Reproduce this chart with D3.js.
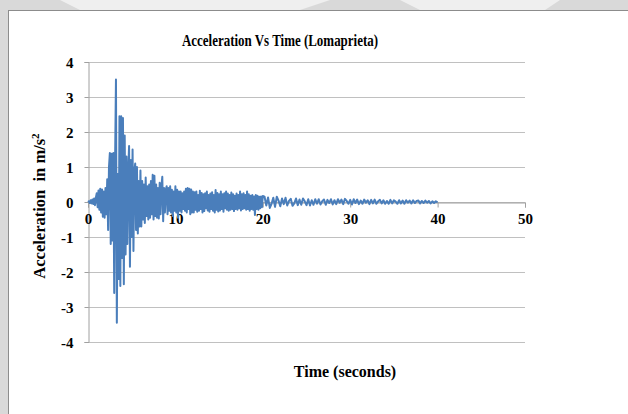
<!DOCTYPE html>
<html>
<head>
<meta charset="utf-8">
<script src="https://cdn.jsdelivr.net/npm/d3@7"></script>
<style>
  body { margin: 0; background: #d9d9d9; overflow: hidden; }
  svg { display: block; }
  text { font-family: "Liberation Serif", "Times New Roman", serif; font-weight: bold; fill: #000; }
</style>
</head>
<body>
<div id="chart"></div>
<script>
// acceleration (m/s^2)
// strong motion part: t = 0 .. 20 s, every 0.1 s
const strongStep = 0.1;
const accelStrong = [
  0, 0.02, -0.03, 0.05, -0.04, 0.07, -0.06, 0.1, -0.09, 0.12,
  0.25, -0.15, 0.33, -0.22, 0.38, -0.3, 0.36, -0.42, 0.3, -0.45,
  0.4, -0.35, 0.65, -0.8, 1.0, 1.4, -1.2, 1.38, -1.1, 1.4,
  -2.6, 1.2, 3.5, -3.45, 0.8, -2.2, 2.45, -2.4, 2.45, -1.6,
  2.4, -2.35, 1.9, -1.5, 1.3, -1.2, 0.9, 1.6, -1.85, 1.2,
  -1.0, 1.5, -1.4, 0.9, 1.1, -0.8, 1.0, -0.9, 0.6, -0.7,
  0.9, -0.7, 0.6, -0.5, 0.5, -0.6, 0.7, -0.4, 0.45, -0.5,
  0.5, -0.45, 0.6, -0.35, 0.78, -0.5, 0.75, -0.4, 0.5, -0.45,
  0.4, -0.47, 0.55, -0.35, 0.45, 0.72, -0.55, 0.4, -0.3, 0.35,
  0.45, -0.35, 0.4, -0.25, 0.45, -0.3, 0.35, -0.4, 0.3, -0.25,
  0.45, -0.3, 0.35, -0.45, 0.3, -0.25, 0.3, -0.3, 0.25, -0.2,
  0.3, -0.25, 0.38, -0.3, 0.4, -0.2, 0.38, -0.35, 0.36, -0.3,
  0.3, -0.3, 0.28, -0.22, 0.3, -0.28, 0.2, -0.25, 0.32, -0.2,
  0.26, -0.3, 0.22, -0.26, 0.25, -0.18, 0.3, -0.24, 0.2, -0.28,
  0.24, -0.2, 0.28, -0.25, 0.2, -0.3, 0.34, -0.22, 0.26, -0.27,
  0.22, -0.24, 0.3, -0.2, 0.22, -0.28, 0.25, -0.18, 0.3, -0.22,
  0.24, -0.25, 0.2, -0.22, 0.27, -0.2, 0.22, -0.26, 0.18, -0.2,
  0.24, -0.22, 0.2, -0.18, 0.3, -0.24, 0.22, -0.2, 0.25, -0.18,
  0.2, -0.22, 0.3, -0.2, 0.22, -0.25, 0.18, -0.2, 0.2, -0.22,
  0.16, -0.37, 0.2, -0.2, 0.18, -0.22, 0.15, -0.18, 0.16, -0.15,
  0.17
];
// coda: t = 20.2 .. 40 s, every 0.2 s
const tailStart = 20.2, tailStep = 0.2;
const accelTail = [
  0.15, -0.1, 0.13, -0.17, -0.05, 0.12, -0.14, 0.15, 0.04, -0.12,
  0.1, -0.06, 0.12, -0.1, 0.03, 0.09, -0.11, -0.04, 0.1, -0.09,
  0.07, -0.08, 0.1, 0.02, -0.09, 0.08, -0.1, 0.05, -0.08, 0.08,
  -0.05, 0.08, -0.07, 0.02, 0.07, -0.08, 0.06, -0.03, 0.08, -0.07,
  0.05, -0.06, 0.08, -0.02, 0.07, -0.06, 0.09, 0.03, -0.05, 0.06,
  -0.07, 0.08, -0.03, 0.07, -0.06, 0.04, -0.05, 0.07, -0.02, 0.05,
  -0.06, 0.06, -0.04, 0.07, -0.05, 0.02, 0.06, -0.04, 0.05, -0.05,
  0.03, -0.05, 0.06, -0.04, 0.05, 0.01, -0.05, 0.05, -0.04, 0.04,
  -0.05, 0.05, -0.02, 0.04, -0.04, 0.05, -0.03, 0.03, 0.04, -0.04,
  0.03, -0.03, 0.04, -0.02, 0.03, -0.04, 0.02, -0.03, 0.02, -0.01
];
const xTicks = [0, 10, 20, 30, 40, 50];
const yTicks = [-4, -3, -2, -1, 0, 1, 2, 3, 4];

const data = accelStrong.map((a, i) => [i * strongStep, a])
  .concat(accelTail.map((a, i) => [tailStart + i * tailStep, a]));

const W = 628, H = 414;
const plot = {left: 88, right: 525, top: 62, bottom: 342};

const svg = d3.select("#chart").append("svg")
  .attr("width", W).attr("height", H);

// outer frame
svg.append("rect").attr("x", 0).attr("y", 0).attr("width", W).attr("height", H).attr("fill", "#d9d9d9");
svg.append("path")
  .attr("d", "M60,0 L330,0 L300,10 L80,10 Z M400,0 L560,0 L545,10 L420,10 Z")
  .attr("fill", "#efefef");
svg.append("rect").attr("x", 8.5).attr("y", 10.5).attr("width", W).attr("height", H)
  .attr("fill", "#fff").attr("stroke", "#8c8c8c");

const x = d3.scaleLinear().domain([0, 50]).range([plot.left, plot.right]);
const y = d3.scaleLinear().domain([-4, 4]).range([plot.bottom, plot.top]);

// gridlines
svg.append("g").selectAll("line").data(yTicks).enter().append("line")
  .attr("x1", plot.left).attr("x2", plot.right)
  .attr("y1", d => Math.round(y(d)) + 0.5).attr("y2", d => Math.round(y(d)) + 0.5)
  .attr("stroke", "#c0c0c0").attr("stroke-width", 1);

// y axis
const yAxis = svg.append("g")
  .attr("transform", `translate(${plot.left + 0.5},0)`)
  .call(d3.axisLeft(y).tickValues(yTicks).tickSize(4).tickPadding(11).tickFormat(d => String(d)));
yAxis.select(".domain").attr("stroke", "#a0a0a0");
yAxis.selectAll(".tick line").attr("stroke", "#a0a0a0");
yAxis.selectAll(".tick text").style("font-size", "15px").attr("dy", "0.35em");

// x axis at zero
const xAxis = svg.append("g")
  .attr("transform", `translate(0,${Math.round(y(0)) + 0.5})`)
  .call(d3.axisBottom(x).tickValues(xTicks).tickSize(5).tickPadding(6).tickFormat(d => String(d)));
xAxis.select(".domain").attr("stroke", "#a0a0a0");
xAxis.selectAll(".tick line").attr("stroke", "#a0a0a0");
xAxis.selectAll(".tick text").style("font-size", "15px");

// series
const line = d3.line().x(d => x(d[0])).y(d => y(d[1]));
svg.append("path").datum(data)
  .attr("d", line)
  .attr("fill", "none")
  .attr("stroke", "#4a7ebb")
  .attr("stroke-width", 2)
  .attr("stroke-linejoin", "round");

// titles
svg.append("text").attr("x", 280).attr("y", 46).attr("text-anchor", "middle")
  .attr("textLength", 196).attr("lengthAdjust", "spacingAndGlyphs")
  .style("font-size", "16px").text("Acceleration Vs Time (Lomaprieta)");
svg.append("text").attr("x", 345).attr("y", 377).attr("text-anchor", "middle")
  .style("font-size", "16px").text("Time (seconds)");
svg.append("text")
  .attr("transform", "translate(45,206) rotate(-90)")
  .attr("text-anchor", "middle")
  .style("font-size", "16.5px")
  .html('Acceleration&#160;&#160;in m/s<tspan dy="-6" font-size="11px">2</tspan>');
</script>
</body>
</html>
